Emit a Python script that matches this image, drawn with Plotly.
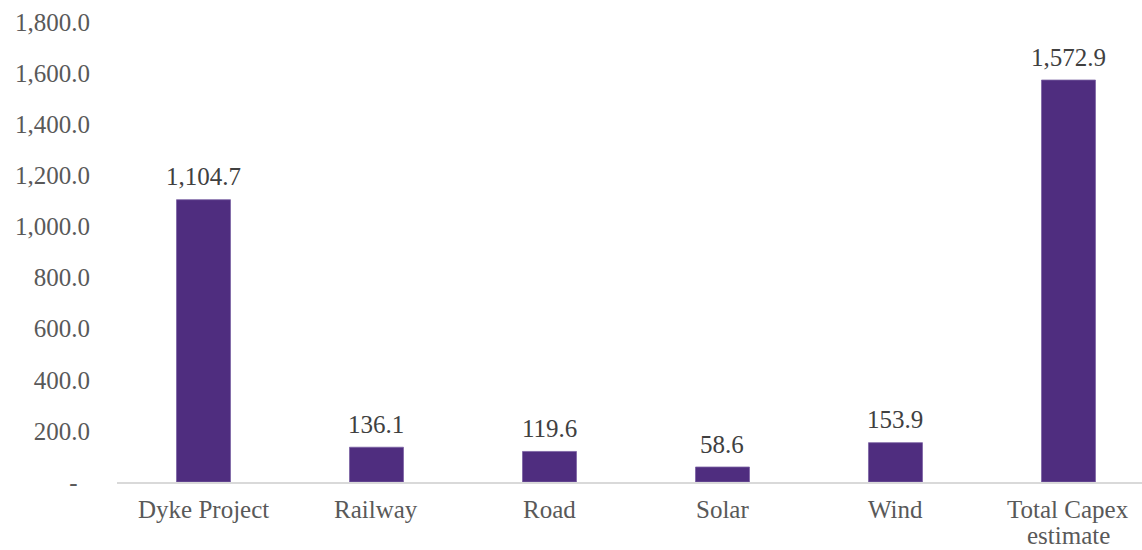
import plotly.graph_objects as go

categories = ["Dyke Project", "Railway", "Road", "Solar", "Wind", "Total Capex<br>estimate"]
values = [1104.7, 136.1, 119.6, 58.6, 153.9, 1572.9]
value_labels = ["1,104.7", "136.1", "119.6", "58.6", "153.9", "1,572.9"]
y_tickvals = [0, 200, 400, 600, 800, 1000, 1200, 1400, 1600, 1800]
y_ticktext = ["-\u00a0\u00a0", "200.0", "400.0", "600.0", "800.0", "1,000.0",
              "1,200.0", "1,400.0", "1,600.0", "1,800.0"]

FONT = "Liberation Serif"
GREY = "#595959"
SIZE = 25

xs = list(range(len(categories)))

fig = go.Figure(go.Bar(
    x=xs,
    y=values,
    width=0.312,
    marker=dict(color="#4F2D7F", line=dict(color="#7B62A3", width=0.8)),
    cliponaxis=False,
))

annotations = []
# value labels above bars
for x, v, t in zip(xs, values, value_labels):
    annotations.append(dict(x=x, y=v, xref="x", yref="y", text=t, showarrow=False,
                            yanchor="middle", yshift=23,
                            font=dict(family=FONT, size=SIZE, color="#404040")))
# category labels below axis (one annotation per line for tight spacing)
for x, c in zip(xs, categories):
    for k, line in enumerate(c.split("<br>")):
        annotations.append(dict(x=x, y=0, xref="x", yref="y", text=line, showarrow=False,
                                yanchor="middle", yshift=-27 - 26 * k,
                                font=dict(family=FONT, size=SIZE, color=GREY)))

fig.update_layout(
    width=1142, height=550,
    margin=dict(l=117, r=0, t=22, b=68),
    paper_bgcolor="white", plot_bgcolor="white",
    showlegend=False,
    font=dict(family=FONT, size=SIZE, color=GREY),
    xaxis=dict(
        range=[-0.5, 5.425],
        tickvals=xs,
        showticklabels=False,
        showgrid=False, zeroline=False,
        showline=True, linecolor="#D9D9D9", linewidth=2,
        ticks="", automargin=False,
    ),
    yaxis=dict(
        range=[0, 1800],
        tickvals=y_tickvals,
        ticktext=y_ticktext,
        showgrid=False, zeroline=False, showline=False,
        ticks="", ticklabelstandoff=26, automargin=False,
        tickfont=dict(family=FONT, size=SIZE, color=GREY),
    ),
    annotations=annotations,
)

fig.write_html("out.html")
